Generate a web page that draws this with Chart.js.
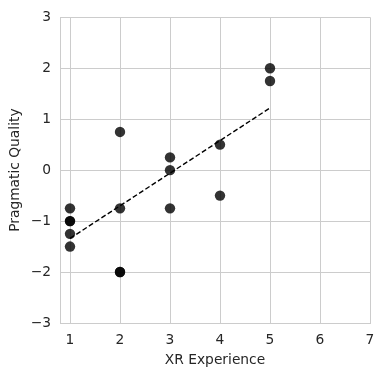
<!DOCTYPE html>
<html><head><meta charset="utf-8">
<script src="https://cdn.jsdelivr.net/npm/chart.js@4"></script>
<style>html,body{margin:0;padding:0;background:#fff}#wrap{width:384px;height:376px}</style>
</head><body><div id="wrap"><canvas id="c" width="384" height="376"></canvas></div>
<script>
const xValues = [1,1,1,1,1, 2,2,2,2, 3,3,3, 4,4, 5,5];
const yValues = [-0.75,-1,-1,-1.25,-1.5, 0.75,-0.75,-2,-2, 0.25,0,-0.75, 0.5,-0.5, 2,1.75];
const trendX = [1, 5];
const trendY = [-1.34, 1.22];
const xTicks = [1,2,3,4,5,6,7];
const yTicks = [-3,-2,-1,0,1,2,3];

const pts = xValues.map((x,i)=>({x, y:yValues[i]}));
const trend = trendX.map((x,i)=>({x, y:trendY[i]}));
const font = {family:'"DejaVu Sans", sans-serif', size:13.8};
const txt = '#262626';
const grid = '#cccccc';

new Chart(document.getElementById('c'), {
  type:'scatter',
  data:{datasets:[
    {data:pts, backgroundColor:'rgba(0,0,0,0.8)', borderWidth:0, pointRadius:5.2, pointHoverRadius:5.2, order:1},
    {type:'line', data:trend, borderColor:'#000', borderWidth:1.4, borderDash:[5,2.5], pointRadius:0, fill:false, order:2}
  ]},
  options:{
    responsive:false, animation:false,
    layout:{padding:{left:7,right:14,top:16,bottom:0}},
    plugins:{legend:{display:false}, tooltip:{enabled:false}},
    scales:{
      x:{type:'linear', min:0.8, max:7,
        afterBuildTicks:a=>{a.ticks=xTicks.map(v=>({value:v}));},
        afterFit:a=>{a.height=53;},
        grid:{color:grid, drawTicks:false, lineWidth:1},
        border:{color:grid, width:1},
        ticks:{color:txt, font, padding:9, maxRotation:0},
        title:{display:true, text:'XR Experience', color:txt, font, padding:{top:4,bottom:7}}
      },
      y:{type:'linear', min:-3, max:3,
        afterBuildTicks:a=>{a.ticks=yTicks.map(v=>({value:v}));},
        afterFit:a=>{a.width=53;},
        grid:{color:grid, drawTicks:false, lineWidth:1},
        border:{color:grid, width:1},
        ticks:{color:txt, font, padding:9, callback:v=>String(v).replace('-','\u2212')},
        title:{display:true, text:'Pragmatic Quality', color:txt, font, padding:{top:0,bottom:6}}
      }
    }
  }
});
</script></body></html>
